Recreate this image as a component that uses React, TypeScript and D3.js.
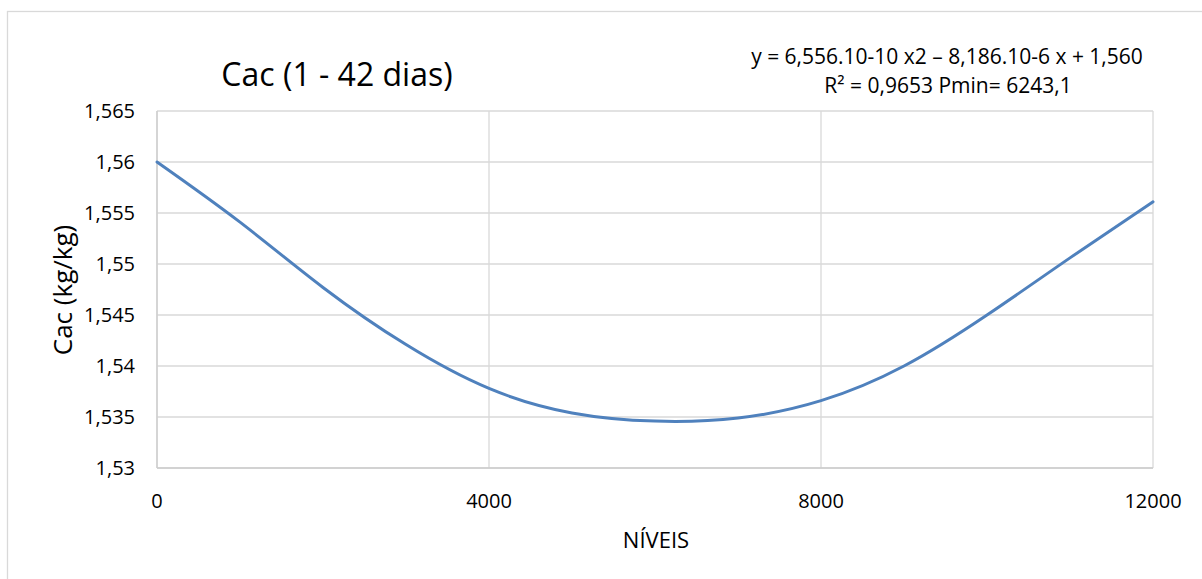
import React from 'react';
import * as d3 from 'd3';

// values
const niveis = [0, 1000, 2000, 3000, 4000, 5000, 6000, 7000, 8000, 9000, 10000, 11000, 12000];
const cac = [1.56, 1.5541, 1.5477, 1.5421, 1.5378, 1.5354, 1.5346, 1.5349, 1.5366, 1.54, 1.545, 1.5506, 1.5561];

const xTicks = [0, 4000, 8000, 12000];
const yTicks = [1.53, 1.535, 1.54, 1.545, 1.55, 1.555, 1.56, 1.565];

const titleText = 'Cac (1 - 42 dias)';
const eqLine1 = 'y = 6,556.10-10 x2 \u2013 8,186.10-6 x + 1,560';
const eqLine2 = 'R\u00b2 = 0,9653 Pmin= 6243,1';
const xTitle = 'N\u00cdVEIS';
const yTitle = 'Cac (kg/kg)';

const W = 1202;
const H = 579;
const plot = { left: 157, right: 1153, top: 111, bottom: 468 };
const font = '"Open Sans", "Noto Sans", sans-serif';
const gridColor = '#d9d9d9';
const lineColor = '#4f81bd';

const fmtY = (v: number) => d3.format('.3~f')(v).replace('.', ',');

export default function App() {
  const x = d3.scaleLinear().domain([0, 12000]).range([plot.left, plot.right]);
  const y = d3.scaleLinear().domain([1.53, 1.565]).range([plot.bottom, plot.top]);

  const pts = niveis.map((n, i) => [n, cac[i]] as [number, number]);
  const line = d3.line<[number, number]>()
    .x(d => x(d[0]))
    .y(d => y(d[1]))
    .curve(d3.curveNatural);

  return (
    <div style={{ position: 'absolute', left: 0, top: 0 }}>
      <svg width={W} height={H} style={{ display: 'block', background: '#fff' }}>
        {/* chart border, runs off the bottom/right */}
        <rect x={7.5} y={11.5} width={W + 10} height={H + 10} fill="#fff" stroke={gridColor} strokeWidth={1.3} />

        {/* horizontal grid */}
        {yTicks.map(t => (
          <line key={'h' + t} x1={plot.left} x2={plot.right} y1={y(t)} y2={y(t)} stroke={gridColor} strokeWidth={1.3} />
        ))}
        {/* vertical grid */}
        {xTicks.map(t => (
          <line key={'v' + t} x1={x(t)} x2={x(t)} y1={plot.top} y2={plot.bottom} stroke={gridColor} strokeWidth={1.3} />
        ))}
        {/* axis lines */}
        <line x1={plot.left} x2={plot.left} y1={plot.top} y2={plot.bottom} stroke="#cccccc" strokeWidth={1.3} />
        <line x1={plot.left} x2={plot.right} y1={plot.bottom} y2={plot.bottom} stroke="#cccccc" strokeWidth={1.3} />

        {/* curve */}
        <path d={line(pts) || ''} fill="none" stroke={lineColor} strokeWidth={3} strokeLinecap="round" />

        {/* y tick labels */}
        {yTicks.map(t => (
          <text key={'yl' + t} x={135} y={y(t) + 7} textAnchor="end" fontFamily={font} fontSize={20} fill="#000">
            {fmtY(t)}
          </text>
        ))}
        {/* x tick labels */}
        {xTicks.map(t => (
          <text key={'xl' + t} x={x(t)} y={508} textAnchor="middle" fontFamily={font} fontSize={20} fill="#000">
            {String(t)}
          </text>
        ))}

        {/* axis titles */}
        <text x={656} y={548} textAnchor="middle" fontFamily={font} fontSize={22} fill="#000">{xTitle}</text>
        <text transform="translate(72,290) rotate(-90)" textAnchor="middle" fontFamily={font} fontSize={26} fill="#000">{yTitle}</text>

        {/* title */}
        <text x={337} y={86} textAnchor="middle" fontFamily={font} fontSize={32} fill="#000">{titleText}</text>

        {/* trendline equation */}
        <text x={947} y={64} textAnchor="middle" fontFamily={font} fontSize={21} fill="#000">{eqLine1}</text>
        <text x={948} y={93} textAnchor="middle" fontFamily={font} fontSize={21} fill="#000">{eqLine2}</text>
      </svg>
    </div>
  );
}
